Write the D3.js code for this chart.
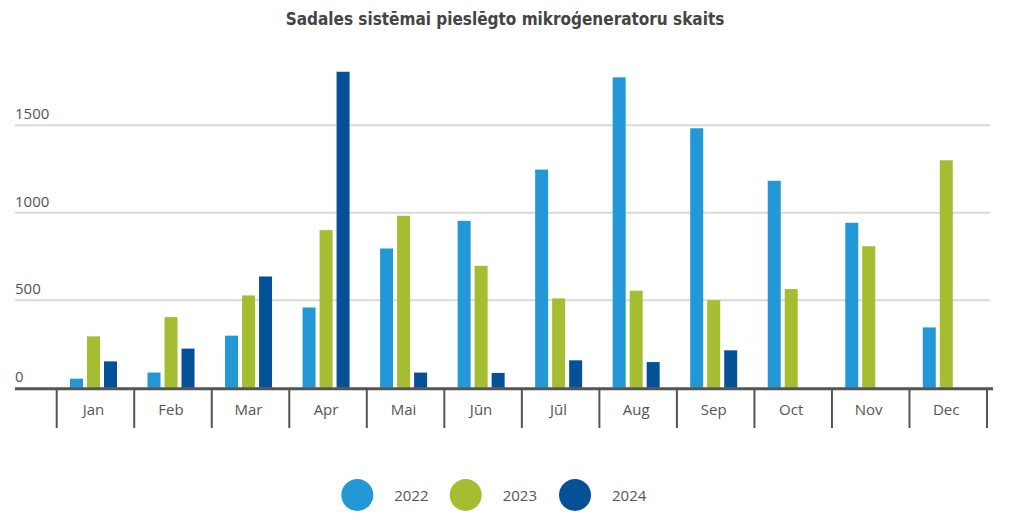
<!DOCTYPE html>
<html><head><meta charset="utf-8">
<script src="https://cdn.jsdelivr.net/npm/d3@7"></script>
<style>body{margin:0;background:#fff;}svg{display:block;font-family:"Open Sans",sans-serif;}</style>
</head><body><svg id="c" width="1011" height="521"></svg>
<script>
const title = "Sadales sistēmai pieslēgto mikroģeneratoru skaits";
const months = ["Jan","Feb","Mar","Apr","Mai","Jūn","Jūl","Aug","Sep","Oct","Nov","Dec"];
const seriesNames = ["2022","2023","2024"];
const colors = ["#2398d6","#a5bd31","#055197"];
const v2022 = [52,87,298,459,796,954,1247,1774,1483,1183,943,345];
const v2023 = [294,404,528,901,983,697,511,555,501,564,809,1300];
const v2024 = [151,224,636,1806,87,85,157,147,214,null,null,null];
const yTicks = [0,500,1000,1500];

const series = [v2022,v2023,v2024];
const svg = d3.select("#c");
const x = d3.scaleBand().domain(months).range([56.7,987]);
const y = d3.scaleLinear().domain([0,1500]).range([387.8,125.3]);

// title
svg.append("text").attr("x",505).attr("y",25).attr("text-anchor","middle")
  .attr("font-family","'DejaVu Sans Condensed',sans-serif").attr("font-weight","bold")
  .attr("font-size",17).attr("fill","#444").text(title);

// gridlines
const g = svg.append("g");
g.selectAll("line.grid").data(yTicks.filter(d=>d>0)).join("line")
  .attr("x1",15).attr("x2",990).attr("y1",d=>y(d)).attr("y2",d=>y(d))
  .attr("stroke","#d9d9d9").attr("stroke-width",2);
g.selectAll("text.yl").data(yTicks).join("text")
  .attr("x",15).attr("y",d=>y(d)-6).attr("font-size",15).attr("fill","#555").text(d=>d);

// bars
const bw = 13, step = 17, off = 13.3;
series.forEach((vals,si)=>{
  svg.append("g").selectAll("rect").data(months.map((m,i)=>({m,v:vals[i]})).filter(d=>d.v!=null)).join("rect")
    .attr("x",d=>x(d.m)+off+si*step).attr("width",bw)
    .attr("y",d=>y(d.v)).attr("height",d=>y(0)-y(d.v))
    .attr("fill",colors[si]);
});

// x axis
svg.append("line").attr("x1",15).attr("x2",993).attr("y1",388.8).attr("y2",388.8)
  .attr("stroke","#555").attr("stroke-width",3);
const bounds = months.map(m=>x(m)).concat([x.range()[1]]);
svg.append("g").selectAll("line").data(bounds).join("line")
  .attr("x1",d=>d).attr("x2",d=>d).attr("y1",388).attr("y2",428)
  .attr("stroke","#555").attr("stroke-width",2);
svg.append("g").selectAll("text").data(months).join("text")
  .attr("x",d=>x(d)+x.bandwidth()/2-2).attr("y",415).attr("text-anchor","middle")
  .attr("font-size",15).attr("fill","#555").text(d=>d);

// legend
const lx = [357.3,465.7,575];
const lg = svg.append("g");
seriesNames.forEach((n,i)=>{
  lg.append("circle").attr("cx",lx[i]).attr("cy",495).attr("r",16).attr("fill",colors[i]);
  lg.append("text").attr("x",lx[i]+37).attr("y",500.5).attr("font-size",15).attr("fill","#555").text(n);
});
</script></body></html>
